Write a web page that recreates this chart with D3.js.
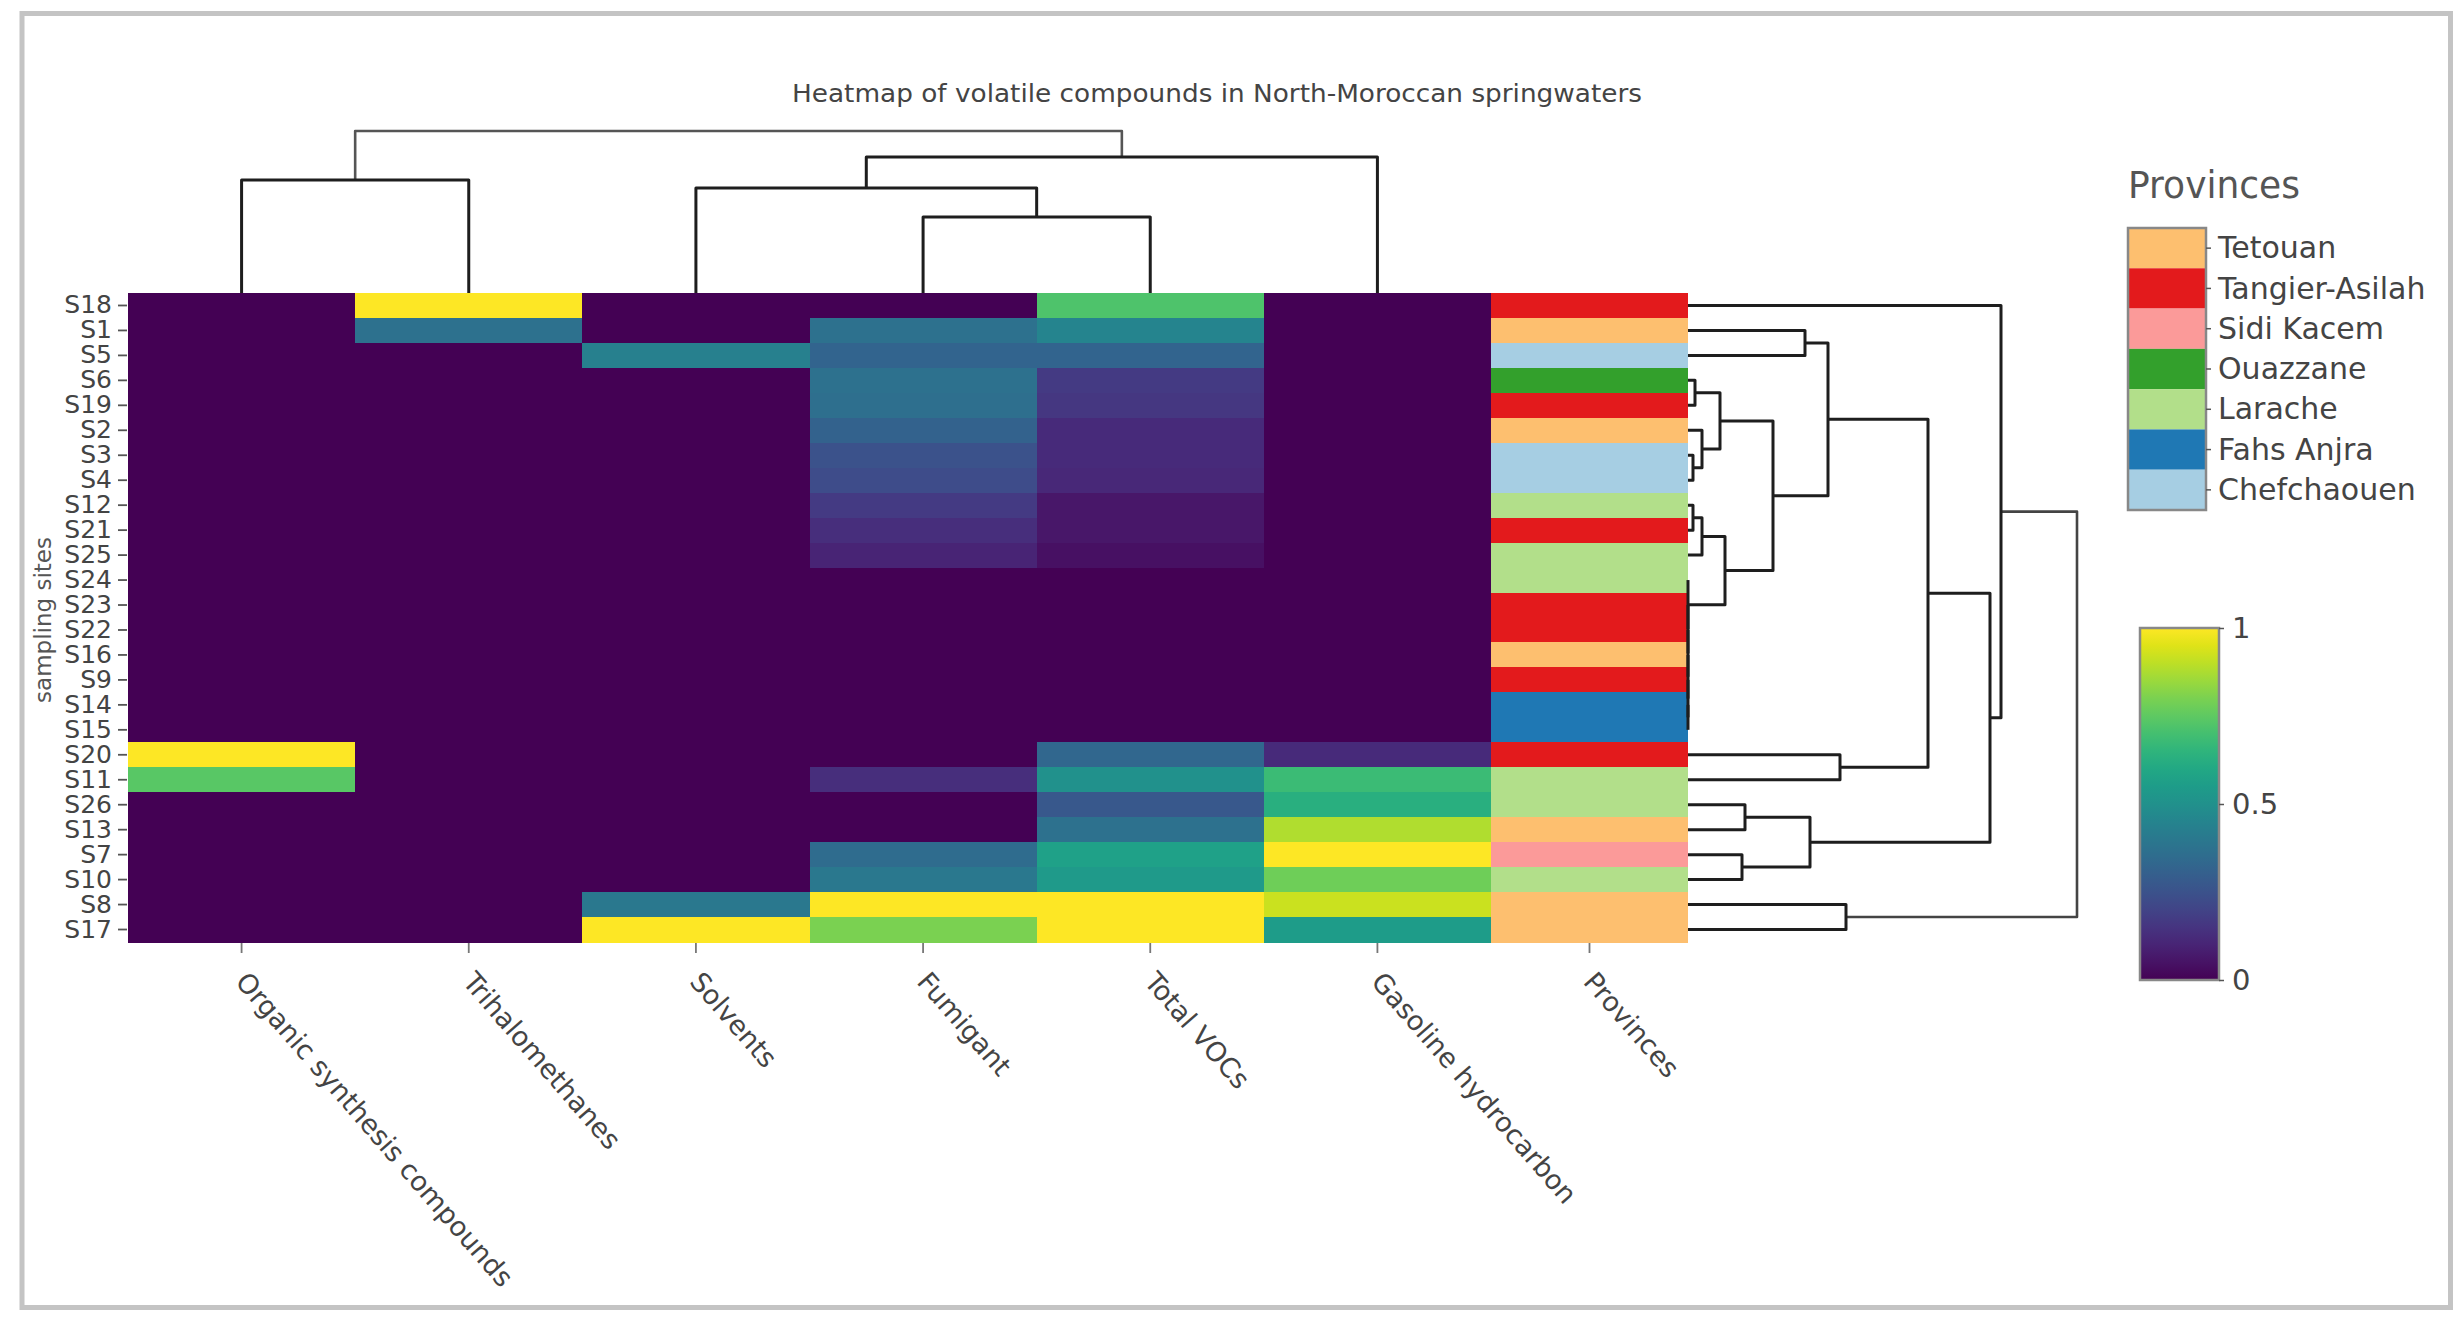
<!DOCTYPE html>
<html>
<head>
<meta charset="utf-8">
<script src="https://cdn.jsdelivr.net/npm/d3@7"></script>
<style>
  html, body { margin: 0; padding: 0; background: #fff; }
  svg { display: block; font-family: "DejaVu Sans", Verdana, sans-serif; }
</style>
</head>
<body>
<svg id="chart" width="2462" height="1327"></svg>
<script>
// ---------------- DATA ----------------
const title = "Heatmap of volatile compounds in North-Moroccan springwaters";
const sites = ["S18","S1","S5","S6","S19","S2","S3","S4","S12","S21","S25","S24","S23","S22","S16","S9","S14","S15","S20","S11","S26","S13","S7","S10","S8","S17"];
const compounds = ["Organic synthesis compounds","Trihalomethanes","Solvents","Fumigant","Total VOCs","Gasoline hydrocarbon"];

// values per compound, in site order above (normalised 0..1)
const organic   = [0,0,0,0,0,0,0,0,0,0,0,0,0,0,0,0,0,0,1,0.74,0,0,0,0,0,0];
const trihalo   = [1,0.37,0,0,0,0,0,0,0,0,0,0,0,0,0,0,0,0,0,0,0,0,0,0,0,0];
const solvents  = [0,0,0.43,0,0,0,0,0,0,0,0,0,0,0,0,0,0,0,0,0,0,0,0,0,0.40,1];
const fumigant  = [0,0.37,0.32,0.37,0.36,0.31,0.25,0.23,0.17,0.13,0.10,0,0,0,0,0,0,0,0,0.13,0,0,0.35,0.40,1,0.80];
const totalVOCs = [0.72,0.45,0.32,0.17,0.16,0.12,0.12,0.11,0.06,0.06,0.04,0,0,0,0,0,0,0,0.33,0.50,0.27,0.37,0.57,0.54,1,1];
const gasoline  = [0,0,0,0,0,0,0,0,0,0,0,0,0,0,0,0,0,0,0.12,0.68,0.63,0.88,1,0.78,0.92,0.55];
const seriesValues = [organic, trihalo, solvents, fumigant, totalVOCs, gasoline];

const provinceOfSite = ["Tangier-Asilah","Tetouan","Chefchaouen","Ouazzane","Tangier-Asilah","Tetouan","Chefchaouen","Chefchaouen","Larache","Tangier-Asilah","Larache","Larache","Tangier-Asilah","Tangier-Asilah","Tetouan","Tangier-Asilah","Fahs Anjra","Fahs Anjra","Tangier-Asilah","Larache","Larache","Tetouan","Sidi Kacem","Larache","Tetouan","Tetouan"];
const provinces = ["Tetouan","Tangier-Asilah","Sidi Kacem","Ouazzane","Larache","Fahs Anjra","Chefchaouen"];
const provinceColors = ["#fdbf6f","#e31a1c","#fb9a99","#33a02c","#b2df8a","#1f78b4","#a6cee3"];
const colorbarTicks = [0, 0.5, 1];

// dendrograms: [height, left, right]
const colTree = [1.62,
  [1.13, "Organic synthesis compounds", "Trihalomethanes"],
  [1.36, [1.05, "Solvents", [0.76, "Fumigant", "Total VOCs"]], "Gasoline hydrocarbon"]];

const rowTree = [3.89,
  [3.13, "S18",
    [3.02,
      [2.40,
        [1.40,
          [1.17, "S1", "S5"],
          [0.85,
            [0.32, [0.07, "S6", "S19"], [0.14, "S2", [0.05, "S3", "S4"]]],
            [0.37, [0.14, [0.05, "S12", "S21"], "S25"],
              [0, "S24", [0, "S23", [0, "S22", [0, "S16", [0, "S9", [0, "S14", "S15"]]]]]]]]],
        [1.52, "S20", "S11"]],
      [1.22, [0.57, "S26", "S13"], [0.54, "S7", "S10"]]]],
  [1.58, "S8", "S17"]];

// ---------------- LAYOUT ----------------
const svg = d3.select("#chart");
const hmLeft = 128, hmRight = 1491, provRight = 1688, hmTop = 293, hmBottom = 942;
const textColor = "#444";

const x = d3.scaleBand().domain(compounds).range([hmLeft, hmRight]);
const xProv = d3.scaleBand().domain(["Provinces"]).range([hmRight, provRight]);
const y = d3.scaleBand().domain(sites).range([hmTop, hmBottom]);
const color = d3.scaleSequential(d3.interpolateViridis).domain([0, 1]);
const provColor = d3.scaleOrdinal().domain(provinces).range(provinceColors);

// outer frame
svg.append("rect").attr("x", 22).attr("y", 13.5).attr("width", 2428.5).attr("height", 1294)
  .attr("fill", "none").attr("stroke", "#c4c4c4").attr("stroke-width", 5);

// title
svg.append("text").attr("x", 1217).attr("y", 102).attr("text-anchor", "middle")
  .attr("font-size", 25).attr("fill", textColor)
  .attr("textLength", 850).attr("lengthAdjust", "spacingAndGlyphs").text(title);

// heatmap background (avoids seams) + cells
svg.append("rect").attr("x", hmLeft).attr("y", hmTop).attr("width", hmRight - hmLeft)
  .attr("height", hmBottom - hmTop).attr("fill", color(0));
const cells = [];
compounds.forEach((c, j) => sites.forEach((s, i) => cells.push({c, s, v: seriesValues[j][i]})));
svg.append("g").attr("shape-rendering", "crispEdges").selectAll("rect").data(cells).join("rect")
  .attr("x", d => x(d.c)).attr("y", d => y(d.s))
  .attr("width", x.bandwidth() + 0.5).attr("height", y.bandwidth() + 0.5)
  .attr("fill", d => color(d.v));

// provinces column
svg.append("g").attr("shape-rendering", "crispEdges").selectAll("rect").data(sites).join("rect")
  .attr("x", xProv("Provinces")).attr("y", d => y(d))
  .attr("width", xProv.bandwidth()).attr("height", y.bandwidth() + 0.5)
  .attr("fill", (d, i) => provColor(provinceOfSite[i]));

// y axis
const yAxis = svg.append("g").attr("transform", `translate(${hmLeft - 1},0)`)
  .call(d3.axisLeft(y).tickSize(9).tickPadding(6));
yAxis.select(".domain").remove();
yAxis.selectAll(".tick line").attr("stroke", "#555").attr("stroke-width", 1.8);
yAxis.selectAll(".tick text").attr("font-size", 25).attr("fill", textColor)
  .attr("font-family", "DejaVu Sans");

svg.append("text").attr("transform", `translate(51,620) rotate(-90)`)
  .attr("text-anchor", "middle").attr("font-size", 23).attr("fill", "#555").text("sampling sites");

// x axis (compounds + provinces)
const xTicks = compounds.map(c => ({label: c, pos: x(c) + x.bandwidth() / 2}))
  .concat([{label: "Provinces", pos: xProv("Provinces") + xProv.bandwidth() / 2}]);
const xg = svg.append("g");
xg.selectAll("line").data(xTicks).join("line")
  .attr("x1", d => d.pos).attr("x2", d => d.pos).attr("y1", hmBottom + 1).attr("y2", hmBottom + 11)
  .attr("stroke", "#777").attr("stroke-width", 1.8);
xg.selectAll("text").data(xTicks).join("text")
  .attr("transform", d => `translate(${d.pos},976) rotate(49)`)
  .attr("dy", "0.36em").attr("font-size", 27).attr("fill", textColor).text(d => d.label);

// dendrogram helpers
function buildTree(node, leafPos) {
  if (typeof node === "string") return {pos: leafPos(node), h: 0};
  const a = buildTree(node[1], leafPos), b = buildTree(node[2], leafPos);
  return {pos: (a.pos + b.pos) / 2, h: node[0], a, b};
}
function collect(n, depth, out) {
  if (!n.a) return out;
  out.push({n, depth});
  collect(n.a, depth + 1, out); collect(n.b, depth + 1, out);
  return out;
}

// top (column) dendrogram
const colH = d3.scaleLinear().domain([0, 1.62]).range([hmTop, 131]);
const colRoot = buildTree(colTree, c => x(c) + x.bandwidth() / 2);
const colLinks = collect(colRoot, 0, []);
svg.append("g").selectAll("path").data(colLinks).join("path")
  .attr("d", d => `M${d.n.a.pos},${colH(d.n.a.h)}V${colH(d.n.h)}H${d.n.b.pos}V${colH(d.n.b.h)}`)
  .attr("fill", "none").attr("stroke", d => d.depth === 0 ? "#555" : "#1e1e1e")
  .attr("stroke-width", d => d.depth === 0 ? 2.6 : 3).attr("stroke-linejoin", "round");

// right (row) dendrogram
const rowH = d3.scaleLinear().domain([0, 3.89]).range([provRight, 2077]);
const rowRoot = buildTree(rowTree, s => y(s) + y.bandwidth() / 2);
const rowLinks = collect(rowRoot, 0, []);
svg.append("g").selectAll("path").data(rowLinks).join("path")
  .attr("d", d => `M${rowH(d.n.a.h)},${d.n.a.pos}H${rowH(d.n.h)}V${d.n.b.pos}H${rowH(d.n.b.h)}`)
  .attr("fill", "none").attr("stroke", d => d.depth === 0 ? "#444" : "#1e1e1e")
  .attr("stroke-width", d => d.depth === 0 ? 2.6 : 3).attr("stroke-linejoin", "round");

// province legend (categorical bar)
svg.append("text").attr("x", 2128).attr("y", 198).attr("font-size", 37).attr("fill", "#555")
  .attr("textLength", 172).attr("lengthAdjust", "spacingAndGlyphs").text("Provinces");
const ly = d3.scaleBand().domain(provinces).range([228, 510]);
const lg = svg.append("g");
lg.selectAll("rect").data(provinces).join("rect")
  .attr("x", 2128).attr("y", d => ly(d)).attr("width", 78).attr("height", ly.bandwidth())
  .attr("fill", d => provColor(d));
lg.append("rect").attr("x", 2128).attr("y", 228).attr("width", 78).attr("height", 282)
  .attr("fill", "none").attr("stroke", "#888").attr("stroke-width", 2.5);
const legAxis = lg.append("g").attr("transform", "translate(2206,0)")
  .call(d3.axisRight(ly).tickSize(5).tickPadding(7));
legAxis.select(".domain").remove();
legAxis.selectAll(".tick line").attr("stroke", "#555").attr("stroke-width", 1.5);
legAxis.selectAll(".tick text").attr("font-size", 30).attr("fill", textColor)
  .attr("font-family", "DejaVu Sans").attr("dy", "0.34em");

// colorbar
const cbTop = 628, cbBottom = 980, cbLeft = 2140, cbW = 79;
const defs = svg.append("defs");
const grad = defs.append("linearGradient").attr("id", "vir").attr("x1", 0).attr("y1", 1).attr("x2", 0).attr("y2", 0);
d3.range(0, 1.0001, 0.05).forEach(t => grad.append("stop").attr("offset", t).attr("stop-color", color(t)));
svg.append("rect").attr("x", cbLeft).attr("y", cbTop).attr("width", cbW).attr("height", cbBottom - cbTop)
  .attr("fill", "url(#vir)").attr("stroke", "#888").attr("stroke-width", 2.5);
const cbScale = d3.scaleLinear().domain([0, 1]).range([cbBottom, cbTop]);
const cbAxis = svg.append("g").attr("transform", `translate(${cbLeft + cbW},0)`)
  .call(d3.axisRight(cbScale).tickValues(colorbarTicks).tickFormat(d3.format("~g")).tickSize(5).tickPadding(8));
cbAxis.select(".domain").remove();
cbAxis.selectAll(".tick line").attr("stroke", "#555").attr("stroke-width", 1.5);
cbAxis.selectAll(".tick text").attr("font-size", 29).attr("fill", textColor).attr("font-family", "DejaVu Sans");
</script>
</body>
</html>
